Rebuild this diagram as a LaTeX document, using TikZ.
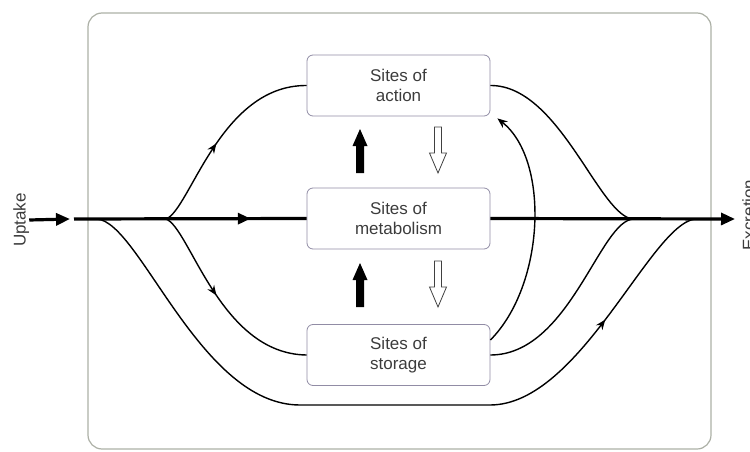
\documentclass[tikz,border=0pt]{standalone}
\usepackage{fontspec}
\setmainfont{Liberation Sans}
\usetikzlibrary{arrows.meta,decorations.markings}
\definecolor{framegray}{RGB}{172,176,166}
\definecolor{boxline}{RGB}{145,140,165}
\definecolor{labelgray}{RGB}{60,60,60}

\begin{document}
\begin{tikzpicture}
  [x=1pt,y=-1pt,
   every node/.style={font=\fontsize{17}{20}\selectfont,text=labelgray},
   site/.style={draw=boxline,line width=0.8pt,rounded corners=6pt,minimum width=183pt,minimum height=61pt,align=center,inner sep=0pt},
   side/.style={rotate=90,anchor=north,inner sep=0pt},
   flow/.style={line width=1.4pt},
   trunk/.style={line width=3.2pt},
   midarrow/.style={postaction={decorate},decoration={markings,mark=at position #1 with {\arrow{Stealth[length=10pt,width=8pt]}}}},
   bigmid/.style={postaction={decorate},decoration={markings,mark=at position #1 with {\arrow{Triangle[length=13pt,width=11pt]}}}}]

  \useasboundingbox (0,0) rectangle (750,452);
  \draw[framegray,line width=1.2pt,rounded corners=14pt] (88,13) rectangle (711,449);

  \node[site] (action) at (398.5,85.5) {Sites of\\action};
  \node[site] (metab) at (398.5,218.5) {Sites of\\metabolism};
  \node[site] (storage) at (398.5,355) {Sites of\\storage};

  \node[side] (uptake) at (13,220) {Uptake};
  \node[side] (excretion) at (742,215) {Excretion};

  \coordinate (in) at (74,219);
  \coordinate (fork) at (166,219);
  \coordinate (bypass) at (97,219);
  \coordinate (merge) at (634,219);
  \coordinate (bymerge) at (695,219);
  \coordinate (out) at (735,219);

  % main stream
  \draw[trunk,-{Triangle[length=14pt,width=12pt]}] (uptake.south) -- ([xshift=-4pt]in);
  \draw[trunk,bigmid=0.76] (in) -- (metab.west);
  \draw[trunk,-{Triangle[length=14pt,width=12pt]}] (metab.east) -- (out);

  % branches
  \draw[flow,midarrow=0.45] (fork) .. controls (190,210) and (220,85) .. (action.west);
  \draw[flow,midarrow=0.45] (fork) .. controls (190,228) and (220,354) .. (storage.west);
  \draw[flow,midarrow=0.82] (bypass) .. controls (140,222) and (200,405) .. (300,405)
    -- (490,405) .. controls (580,405) and (650,225) .. (bymerge);
  \draw[flow] (action.east) .. controls (560,85) and (600,219) .. (merge);
  \draw[flow] (storage.east) .. controls (570,355) and (600,219) .. (merge);
  \draw[flow,-{Stealth[length=10pt,width=8pt]}] ([yshift=15pt]storage.east)
    .. controls (545,285) and (550,160) .. ([xshift=7pt,yshift=-2pt]action.south east);

  % exchange arrows
  \foreach \dy in {0,134} {
    \fill (356,173+\dy) -- ++(0,-27) -- ++(-3.5,0) -- ++(7.5,-17) -- ++(7.5,17) -- ++(-3.5,0) -- ++(0,27) -- cycle;
    \draw[fill=white,draw=black!75,line width=0.8pt] (434.5,127+\dy) -- ++(0,26) -- ++(-5,0) -- ++(8.5,20) -- ++(8.5,-20) -- ++(-5,0) -- ++(0,-26) -- cycle;
  }

\end{tikzpicture}
\end{document}
